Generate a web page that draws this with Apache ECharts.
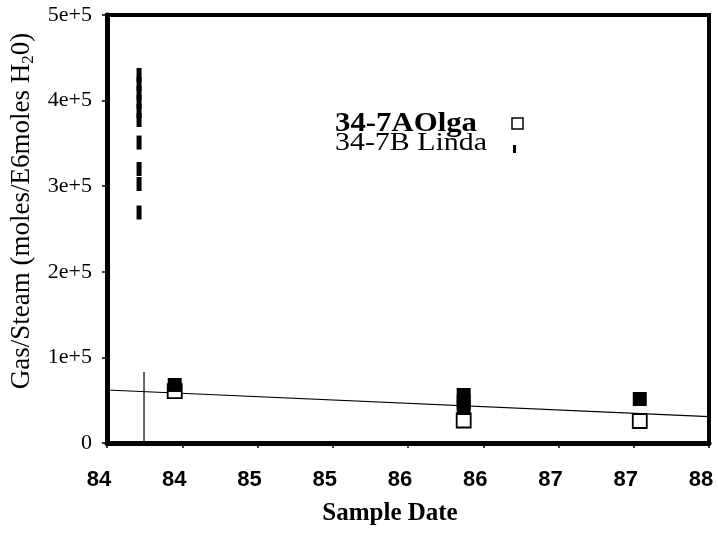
<!DOCTYPE html>
<html>
<head>
<meta charset="utf-8">
<script src="https://cdn.jsdelivr.net/npm/echarts@6/dist/echarts.min.js"></script>
<style>html,body{margin:0;padding:0;background:#fff;}#c{width:718px;height:533px;}</style>
</head>
<body>
<div id="c"></div>
<script>
// ---- data ----
var xTickLabels = ['84', '84', '85', '85', '86', '86', '87', '87', '88'];
var yTickLabels = ['0', '1e+5', '2e+5', '3e+5', '4e+5', '5e+5'];

// 34-7A Olga (open squares)
var olgaX = [84.45, 86.37, 87.54];
var olgaY = [60700, 26300, 25700];

// filled squares
var filledX = [84.45, 86.37, 86.37, 86.37, 87.54];
var filledY = [67800, 56100, 48000, 40900, 51400];

// 34-7B Linda (vertical dash markers)
var lindaX = [84.213, 84.213, 84.213, 84.213, 84.213, 84.213, 84.213, 84.213, 84.213, 84.213];
var lindaY = [429900, 419400, 408900, 398400, 387900, 377300, 351000, 320100, 302600, 269300];

// trend line
var trendX = [84, 88];
var trendY = [61900, 30700];

// vertical reference line
var vlineX = [84.246, 84.246];
var vlineY = [0, 82900];

function zip(xs, ys) { return xs.map(function (x, i) { return [x, ys[i]]; }); }

var chart = echarts.init(document.getElementById('c'), null, { renderer: 'canvas' });
var serif = 'Liberation Serif';
var sans = 'Liberation Sans';

chart.setOption({
  animation: false,
  backgroundColor: '#fff',
  grid: { left: 107, right: 9, top: 15, bottom: 90, show: true, borderColor: '#000', borderWidth: 4, backgroundColor: 'transparent' },
  xAxis: {
    type: 'value', min: 84, max: 88, interval: 0.5,
    name: 'Sample Date', nameLocation: 'middle', nameGap: 58,
    nameTextStyle: { fontFamily: serif, fontWeight: 'bold', fontSize: 25, color: '#000', padding: [0, 36, 0, 0] },
    axisLine: { lineStyle: { color: '#000', width: 5 } },
    axisTick: { show: true, length: 5, lineStyle: { color: '#000', width: 1.5 } },
    axisLabel: {
      fontFamily: sans, fontWeight: 'bold', fontSize: 22, color: '#000', margin: 26, padding: [0, 16, 0, 0],
      formatter: function (v) { return xTickLabels[Math.round((v - 84) / 0.5)]; }
    },
    splitLine: { show: false }
  },
  yAxis: {
    type: 'value', min: 0, max: 500000, interval: 100000,
    name: '{n|Gas/Steam (moles/E6moles H}{s|2}{n|0)}', nameLocation: 'middle', nameGap: 70,
    nameTextStyle: {
      fontFamily: serif, fontSize: 27, color: '#000', padding: [0, 0, 0, 36],
      rich: {
        n: { fontFamily: serif, fontSize: 27, color: '#000' },
        s: { fontFamily: serif, fontSize: 17, color: '#000', padding: [13, 0, 0, 0] }
      }
    },
    axisLine: { lineStyle: { color: '#000', width: 5 } },
    axisTick: { show: true, length: 5, lineStyle: { color: '#000', width: 1.5 } },
    axisLabel: {
      fontFamily: serif, fontSize: 22, color: '#000', margin: 15,
      formatter: function (v) { return yTickLabels[Math.round(v / 100000)]; }
    },
    splitLine: { show: false }
  },
  series: [
    { type: 'line', data: zip(trendX, trendY), showSymbol: false, symbol: 'none',
      lineStyle: { color: '#000', width: 1.2 }, z: 2 },
    { type: 'line', data: zip(vlineX, vlineY), showSymbol: false, symbol: 'none',
      lineStyle: { color: '#000', width: 1.2 }, z: 2 },
    { name: '34-7AOlga', type: 'scatter', data: zip(olgaX, olgaY), symbol: 'rect', symbolSize: 14,
      itemStyle: { color: '#fff', borderColor: '#000', borderWidth: 1.8, opacity: 1 }, z: 3 },
    { name: 'filled', type: 'scatter', data: zip(filledX, filledY), symbol: 'rect', symbolSize: 14,
      itemStyle: { color: '#000', borderWidth: 0, borderColor: '#000', opacity: 1 }, z: 10 },
    { name: '34-7B Linda', type: 'scatter', data: zip(lindaX, lindaY), symbol: 'rect', symbolSize: [5, 14],
      itemStyle: { color: '#000', borderWidth: 0, borderColor: '#000', opacity: 1 }, z: 10 }
  ],
  graphic: [
    { type: 'text', left: 335, top: 110, scaleX: 1.1, style: { text: '34-7AOlga', fontFamily: serif, fontWeight: 'bold', fontSize: 28, fill: '#000' } },
    { type: 'text', left: 335, top: 130, scaleX: 1.15, style: { text: '34-7B Linda', fontFamily: serif, fontSize: 26, fill: '#000' } },
    { type: 'rect', shape: { x: 512, y: 118, width: 11, height: 11 }, style: { fill: '#fff', stroke: '#000', lineWidth: 1.5 } },
    { type: 'rect', shape: { x: 513, y: 145, width: 3, height: 8 }, style: { fill: '#000' } }
  ]
});
</script>
</body>
</html>
